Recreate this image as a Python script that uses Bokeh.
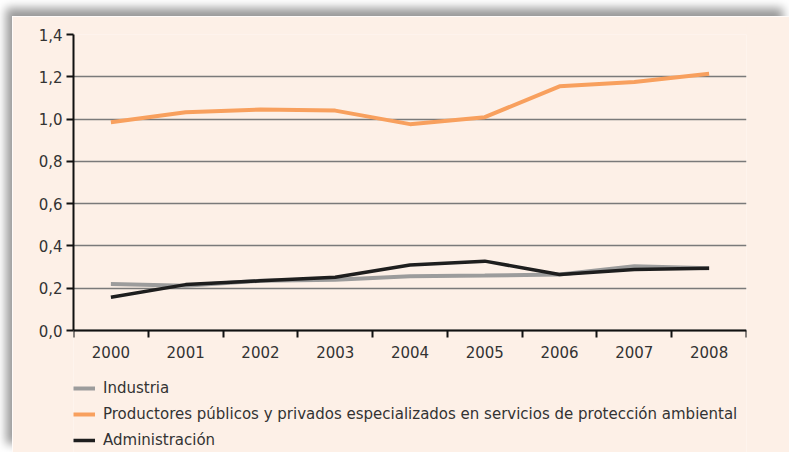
from bokeh.plotting import figure
from bokeh.models import Range1d, FixedTicker, CustomJSTickFormatter, Legend, LegendItem
from bokeh.embed import file_html
from bokeh.resources import INLINE

years = [2000, 2001, 2002, 2003, 2004, 2005, 2006, 2007, 2008]
industria = [0.22, 0.212, 0.235, 0.24, 0.257, 0.26, 0.265, 0.304, 0.295]
productores = [0.985, 1.032, 1.045, 1.04, 0.976, 1.009, 1.155, 1.175, 1.214]
administracion = [0.157, 0.217, 0.235, 0.252, 0.31, 0.328, 0.265, 0.289, 0.294]

y_ticks = [0.0, 0.2, 0.4, 0.6, 0.8, 1.0, 1.2, 1.4]
labels = ["Industria",
          "Productores públicos y privados especializados en servicios de protección ambiental",
          "Administración"]

BG = "#FDF0E7"
FONT = "DejaVu Sans"
TXT = "#333333"

# frame: y=1.4 at 18px from top, y=0 at 314px; frame runs to the bottom (436) to host the legend
Y_BOTTOM = -(436 - 314) / ((314 - 18) / 1.4)

p = figure(width=777, height=436, output_backend="svg", toolbar_location=None,
           x_range=Range1d(1999.5, 2008.5), y_range=Range1d(Y_BOTTOM, 1.4),
           min_border_left=61, min_border_top=18, min_border_right=43, min_border_bottom=0)
p.margin = (16, 0, 0, 12)
p.styles = {"box-shadow": "-6px -8px 9px rgba(0,0,0,0.4)"}
p.background_fill_color = BG
p.border_fill_color = BG
p.outline_line_color = None

# x axis (fixed at y=0)
xa = p.xaxis[0]
xa.fixed_location = 0
xa.ticker = FixedTicker(ticks=years, minor_ticks=[y - 0.5 for y in years] + [years[-1] + 0.5])
xa.major_tick_line_color = None
xa.major_tick_out = 0
xa.major_tick_in = 0
xa.minor_tick_line_color = "#111111"
xa.minor_tick_line_width = 2
xa.minor_tick_out = 7
xa.minor_tick_in = 0
xa.axis_line_color = "#111111"
xa.axis_line_width = 2
xa.major_label_standoff = 8
xa.major_label_text_font = FONT
xa.major_label_text_font_size = "15px"
xa.major_label_text_color = TXT

# y axis
ya = p.yaxis[0]
ya.bounds = (0, 1.4)
ya.ticker = FixedTicker(ticks=y_ticks, minor_ticks=[])
ya.formatter = CustomJSTickFormatter(code="return tick.toFixed(1).replace('.', ',');")
ya.major_tick_line_color = "#111111"
ya.major_tick_line_width = 2
ya.major_tick_out = 7
ya.major_tick_in = 0
ya.minor_tick_line_color = None
ya.axis_line_color = "#111111"
ya.axis_line_width = 2
ya.major_label_standoff = 4
ya.major_label_text_font = FONT
ya.major_label_text_font_size = "15px"
ya.major_label_text_color = TXT

p.xgrid.grid_line_color = None
p.ygrid.grid_line_color = "#7a7a7a"
p.ygrid.grid_line_width = 1.5

r1 = p.line(years, industria, line_color="#9c9c9c", line_width=4)
r2 = p.line(years, productores, line_color="#F8A05E", line_width=4)
r3 = p.line(years, administracion, line_color="#1e1e1e", line_width=3.5)

legend = Legend(items=[LegendItem(label=labels[0], renderers=[r1]),
                       LegendItem(label=labels[1], renderers=[r2]),
                       LegendItem(label=labels[2], renderers=[r3])],
                location=(0, 2), orientation="vertical",
                background_fill_alpha=0, border_line_alpha=0,
                padding=0, margin=0, spacing=6,
                label_height=20, glyph_height=20, glyph_width=22, label_standoff=8,
                label_text_font=FONT, label_text_font_size="15px", label_text_color=TXT)
p.add_layout(legend)

open("out.html", "w").write(file_html(p, INLINE))
